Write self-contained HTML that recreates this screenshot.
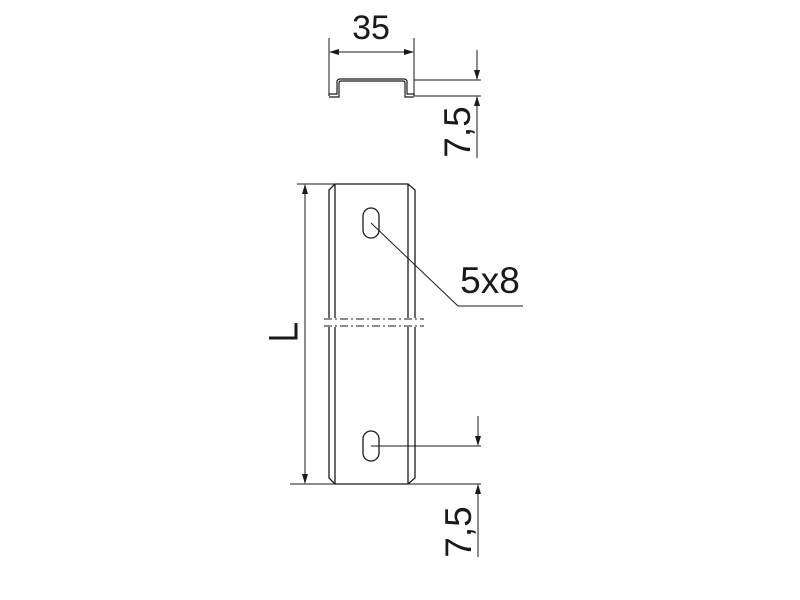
<!DOCTYPE html>
<html><head><meta charset="utf-8"><style>
html,body{margin:0;padding:0;background:#fff;}
svg{display:block;}
text{font-family:"Liberation Sans",Arial,sans-serif;fill:#1a1a1a;}
</style></head><body>
<svg width="800" height="600" viewBox="0 0 800 600" xmlns="http://www.w3.org/2000/svg">
<defs>
<marker id="a" markerWidth="10" markerHeight="10" refX="9" refY="3" orient="auto" markerUnits="userSpaceOnUse"><path d="M0,0 L10,3 L0,6 z" fill="#1a1a1a"/></marker>
</defs>
<g stroke="#1a1a1a" fill="none" stroke-width="1">
<line x1="329" y1="38" x2="329" y2="96"/>
<line x1="414" y1="38" x2="414" y2="96"/>
<line x1="371" y1="52" x2="330" y2="52" marker-end="url(#a)"/>
<line x1="371" y1="52" x2="413" y2="52" marker-end="url(#a)"/>
<path d="M329,96 L329,94 L337,94 L337,82 Q337,79 340,79 L404,79 Q407,79 407,82 L407,94 L414,94 L414,96" stroke-width="1.2"/>
<path d="M329,97 L339,97 L339,83 Q339,81 341,81 L403,81 Q405,81 405,83 L405,97 L414,97" stroke-width="1.2"/>
<line x1="414" y1="80" x2="481" y2="80"/>
<line x1="414" y1="96" x2="481" y2="96"/>
<line x1="477" y1="50" x2="477" y2="79" marker-end="url(#a)"/>
<line x1="477" y1="158" x2="477" y2="97" marker-end="url(#a)"/>
<line x1="297" y1="184" x2="335" y2="184"/>
<path d="M335,184 L408,184 L415,190 L415,318 M415,327 L415,478 L408,484 L335,484 L329,478 L329,327 M329,318 L329,190 L335,184" stroke-width="1.3"/>
<line x1="335" y1="184" x2="335" y2="318" stroke-width="1.3"/>
<line x1="335" y1="327" x2="335" y2="484" stroke-width="1.3"/>
<line x1="408" y1="184" x2="408" y2="318" stroke-width="1.3"/>
<line x1="408" y1="327" x2="408" y2="484" stroke-width="1.3"/>
<line x1="324" y1="319" x2="424" y2="319" stroke-dasharray="8,3,2,3"/>
<line x1="324" y1="326" x2="424" y2="326" stroke-dasharray="8,3,2,3"/>
<rect x="363" y="208" width="16" height="30" rx="8" stroke-width="1.3"/>
<rect x="363" y="431" width="16" height="30" rx="8" stroke-width="1.3"/>
<path d="M371,223 L458,306 L523,306"/>
<line x1="371" y1="446" x2="481" y2="446"/>
<line x1="478" y1="416" x2="478" y2="445" marker-end="url(#a)"/>
<line x1="290" y1="484" x2="481" y2="484"/>
<line x1="478" y1="557" x2="478" y2="485" marker-end="url(#a)"/>
<line x1="305" y1="334" x2="305" y2="185" marker-end="url(#a)"/>
<line x1="305" y1="334" x2="305" y2="483" marker-end="url(#a)"/>
<path d="M269,338 L296,338 L296,323" stroke-width="3"/>
</g>
<text x="371" y="39" font-size="34" text-anchor="middle">35</text>
<text x="490" y="293" font-size="37" text-anchor="middle">5x8</text>
<text transform="translate(470,132) rotate(-90)" font-size="37" text-anchor="middle">7,5</text>
<text transform="translate(471,532) rotate(-90)" font-size="37" text-anchor="middle">7,5</text>
</svg>
</body></html>
